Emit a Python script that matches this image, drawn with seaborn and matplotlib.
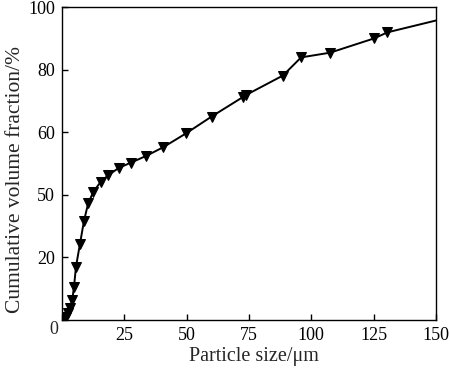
import matplotlib
matplotlib.use("Agg")
import matplotlib.pyplot as plt
import seaborn as sns
import pandas as pd

# Data
particle_size = [0.8, 1.6, 2.5, 3.2, 4.1, 4.8, 5.6, 7.2, 8.8, 10.5, 12.6, 15.5,
                 18.6, 22.8, 27.7, 33.7, 40.6, 49.7, 60.0, 72.5, 73.6, 88.6,
                 95.9, 107.5, 125.3, 130.5, 165.0]
cum_volume = [0.3, 1.0, 2.2, 3.8, 6.4, 10.5, 17.0, 24.3, 31.6, 37.3, 41.0, 44.1,
              46.3, 48.6, 50.3, 52.4, 55.2, 59.6, 65.0, 71.2, 71.8, 78.1,
              83.9, 85.4, 90.0, 91.9, 98.6]
x_ticks = [0, 25, 50, 75, 100, 125, 150]
x_tick_labels = ["", "25", "50", "75", "100", "125", "150"]
y_ticks = [0, 20, 40, 60, 80, 100]
y_tick_labels = ["", "20", "50", "60", "80", "100"]
corner_label = "0"

df = pd.DataFrame({"size": particle_size, "frac": cum_volume})

sns.set_style("ticks")
plt.rcParams["font.family"] = ["Liberation Serif", "DejaVu Serif"]

fig = plt.figure(figsize=(4.5, 3.7), dpi=100)
ax = fig.add_axes([62 / 450, 50 / 370, 374 / 450, 313 / 370])

sns.lineplot(data=df, x="size", y="frac", ax=ax, sort=False, color="black",
             marker="v", markersize=6.5, markeredgecolor="black",
             linewidth=1.4, clip_on=True)

ax.set_xlim(0, 150)
ax.set_ylim(0, 100)
ax.set_xticks(x_ticks)
ax.set_xticklabels(x_tick_labels)
ax.set_yticks(y_ticks)
ax.set_yticklabels(y_tick_labels)
ax.tick_params(direction="in", length=4, width=1, labelsize=13,
               top=False, right=False, colors="black", pad=5)
for s in ax.spines.values():
    s.set_visible(True)
    s.set_linewidth(1.0)
    s.set_color("black")

ax.text(-0.022, -0.03, corner_label, transform=ax.transAxes, ha="center",
        va="center", fontsize=13)

ax.set_xlabel("Particle size/\u03bcm", fontsize=14.5)
ax.xaxis.set_label_coords(0.513, -0.085)
ax.set_ylabel("Cumulative volume fraction/%", fontsize=15.5)
ax.yaxis.set_label_coords(-0.1, 0.45)

fig.savefig("out.png", dpi=100)
